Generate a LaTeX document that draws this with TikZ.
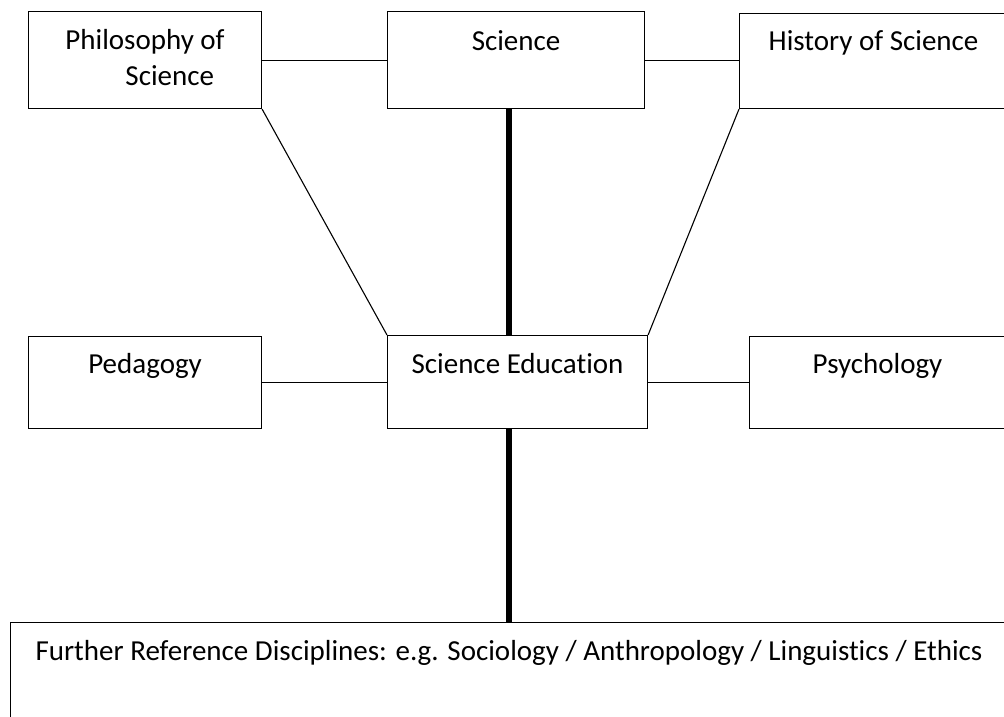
\documentclass[tikz,border=0pt]{standalone}
\usepackage{fontspec}
\setmainfont{Carlito}[Ligatures=NoCommon]
\begin{document}
\begin{tikzpicture}[x=1pt, y=-1pt,
    box/.style={draw, line width=1.1pt, inner sep=0pt, anchor=north west,
        font=\fontsize{29}{36}\selectfont},
    link/.style={line width=1.1pt},
    mainlink/.style={line width=5.5pt}]
    \useasboundingbox (0,0) rectangle (1004,716);

    % Top row
    \node[box, minimum width=233pt, text height=74pt, text depth=23pt, align=left]
        (phil) at (28,11) {Philosophy of\\\hspace*{60pt}Science};
    \node[box, minimum width=257pt, text height=39pt, text depth=58pt]
        (sci) at (387,11) {Science};
    \node[box, minimum width=268pt, text height=37pt, text depth=58pt]
        (hist) at (739,13) {History of Science};

    % Middle row
    \node[box, minimum width=233pt, text height=37pt, text depth=55pt]
        (ped) at (28,336) {Pedagogy};
    \node[box, minimum width=260pt, text height=38pt, text depth=55pt]
        (sed) at (387,335) {Science Education};
    \node[box, minimum width=256pt, text height=37pt, text depth=55pt]
        (psy) at (749,336) {Psychology};

    % Bottom box
    \node[box, minimum width=997pt, text height=38pt, text depth=80pt]
        (fur) at (10,622) {Further Reference Disciplines: e.g. Sociology / Anthropology / Linguistics / Ethics};

    % Connectors
    \draw[link] (phil.east) -- (sci.west);
    \draw[link] (sci.east) -- (sci.east -| hist.west);
    \draw[link] (phil.south east) -- (sed.north west);
    \draw[link] (hist.south west) -- (sed.north east);
    \draw[link] (ped.east) -- (ped.east -| sed.west);
    \draw[link] (sed.east) -- (sed.east -| psy.west);
    \draw[mainlink] (sci.south -| fur.north) -- (sed.north -| fur.north);
    \draw[mainlink] (sed.south -| fur.north) -- (fur.north);
\end{tikzpicture}
\end{document}
